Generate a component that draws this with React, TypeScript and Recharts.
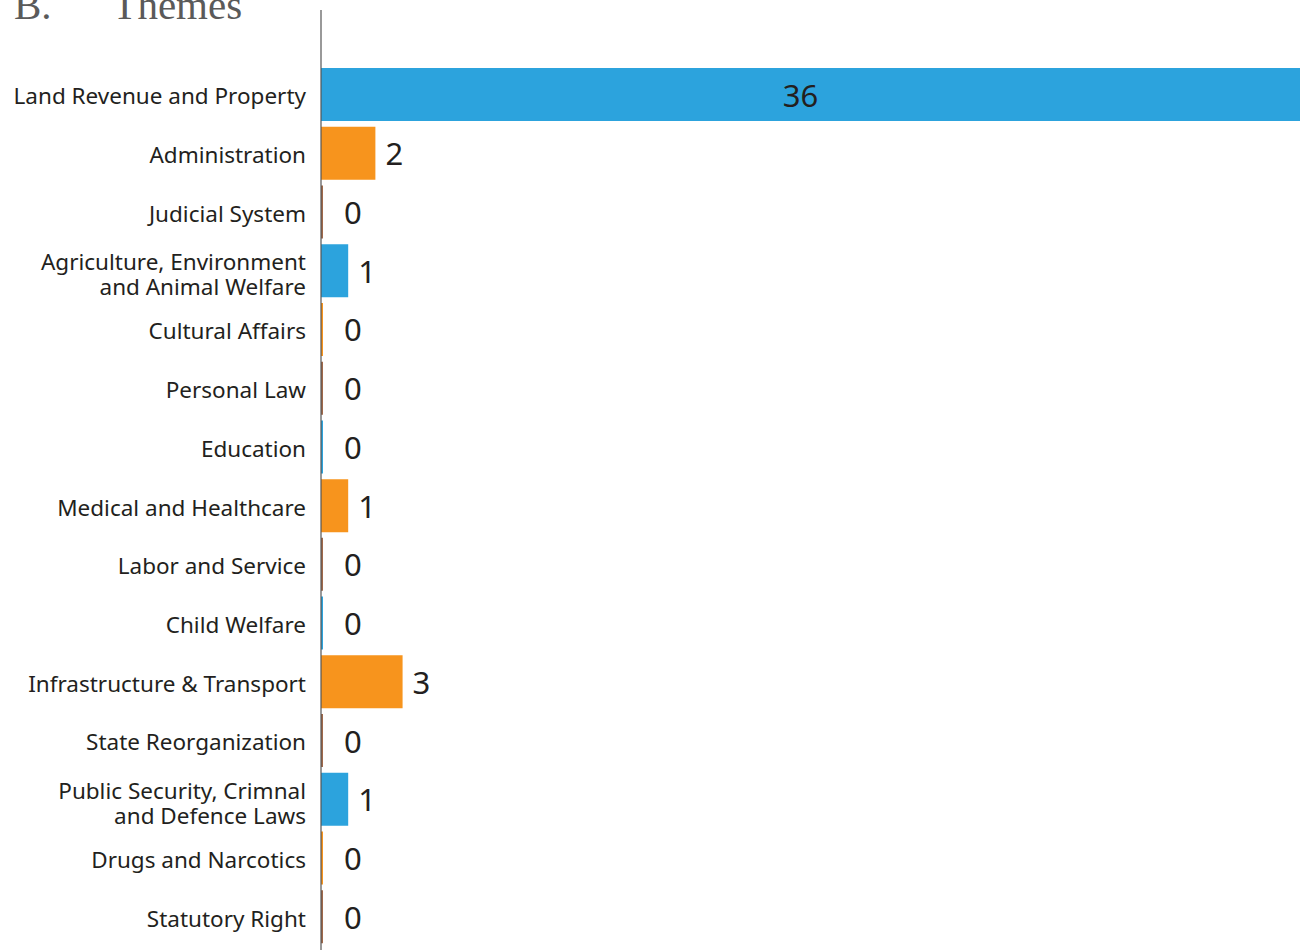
import React from 'react';
import { BarChart, Bar, XAxis, YAxis, Cell, LabelList } from 'recharts';

const themes = [
  'Land Revenue and Property',
  'Administration',
  'Judicial System',
  'Agriculture, Environment|and Animal Welfare',
  'Cultural Affairs',
  'Personal Law',
  'Education',
  'Medical and Healthcare',
  'Labor and Service',
  'Child Welfare',
  'Infrastructure & Transport',
  'State Reorganization',
  'Public Security, Crimnal|and Defence Laws',
  'Drugs and Narcotics',
  'Statutory Right',
];

const counts = [36, 2, 0, 1, 0, 0, 0, 1, 0, 0, 3, 0, 1, 0, 0];

const palette = ['#2ca3dd', '#f7941d', '#a0694a'];

const data = themes.map((name, i) => ({ name, count: counts[i] }));

const FONT = '"Noto Sans", sans-serif';

const ThemeTick = (props: any) => {
  const { x, y, payload } = props;
  const lines = String(payload.value).split('|');
  const lh = 25;
  const start = -((lines.length - 1) * lh) / 2 + (lines.length > 1 ? 12 : 10);
  return (
    <text x={x} y={y} textAnchor="end" fill="#231f20" fontSize={22.5} fontFamily={FONT}>
      {lines.map((l, i) => (
        <tspan key={i} x={x} dy={i === 0 ? start : lh}>
          {l}
        </tspan>
      ))}
    </text>
  );
};

const ValueLabel = (props: any) => {
  const { x, y, width, height, value } = props;
  const cy = y + height / 2 + 12;
  if (value >= 20) {
    return (
      <text x={x + width / 2 - 10} y={cy} textAnchor="middle" fill="#231f20" fontSize={31} fontFamily={FONT}>
        {value}
      </text>
    );
  }
  const gap = value === 0 ? 21 : 10;
  return (
    <text x={x + width + gap} y={cy} textAnchor="start" fill="#231f20" fontSize={31} fontFamily={FONT}>
      {value}
    </text>
  );
};

export default function App() {
  return (
    <div style={{ position: 'absolute', left: 0, top: 0, width: 1300, height: 950, background: '#fff' }}>
      <div
        style={{
          position: 'absolute',
          left: 14,
          top: -19,
          fontFamily: '"Liberation Serif", serif',
          fontSize: 41,
          color: '#5a5a5a',
          whiteSpace: 'pre',
        }}
      >
        {'B.      Themes'}
      </div>
      <BarChart
        width={1300}
        height={950}
        data={data}
        layout="vertical"
        margin={{ top: 10, right: 0, bottom: 0, left: 0 }}
        barCategoryGap={3}
      >
        <XAxis type="number" domain={[0, 36]} hide />
        <YAxis
          type="category"
          dataKey="name"
          width={321}
          tickLine={false}
          axisLine={{ stroke: '#555', strokeWidth: 1.2 }}
          tick={<ThemeTick />}
          tickMargin={9}
          interval={0}
          padding={{ top: 55, bottom: 4 }}
        />
        <Bar dataKey="count" isAnimationActive={false} minPointSize={2}>
          {data.map((_, i) => (
            <Cell key={`c-${i}`} fill={palette[i % 3]} />
          ))}
          <LabelList dataKey="count" content={<ValueLabel />} />
        </Bar>
      </BarChart>
    </div>
  );
}
